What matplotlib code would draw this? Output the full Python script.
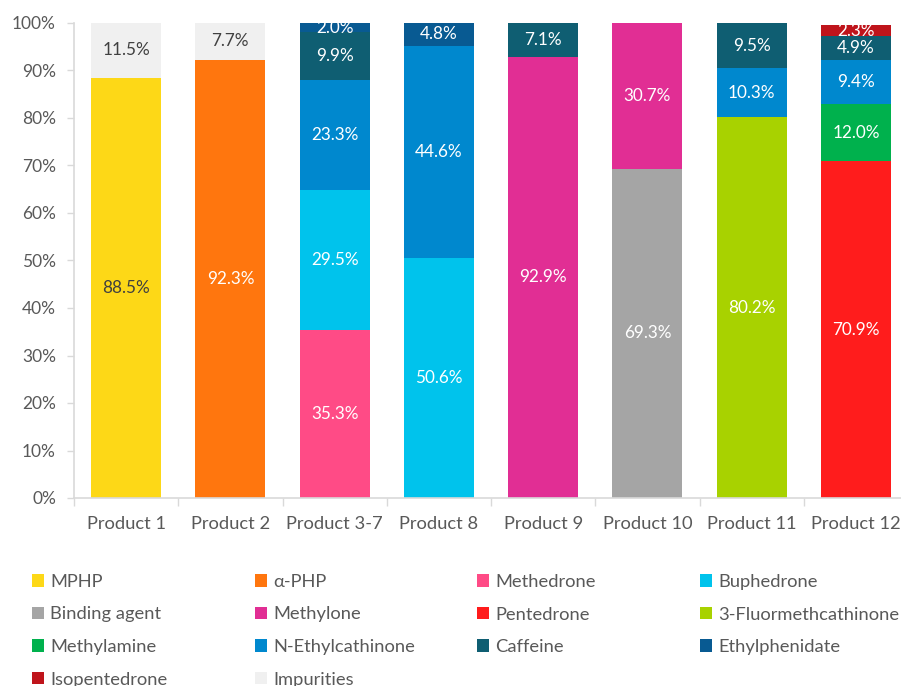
import matplotlib
matplotlib.use("Agg")
import matplotlib.pyplot as plt
from matplotlib.patches import Patch
import numpy as np

plt.rcParams['font.family'] = ['Lato', 'DejaVu Sans']

products = ["Product 1", "Product 2", "Product 3-7", "Product 8", "Product 9",
            "Product 10", "Product 11", "Product 12"]

components = ["MPHP", "α-PHP", "Methedrone", "Buphedrone", "Binding agent", "Methylone",
              "Pentedrone", "3-Fluormethcathinone", "Methylamine", "N-Ethylcathinone",
              "Caffeine", "Ethylphenidate", "Isopentedrone", "Impurities"]

colors = ["#FDD817", "#FF760E", "#FF4B86", "#00C3EC", "#A5A5A5", "#E12E94",
          "#FF1C1C", "#A8D200", "#00B14D", "#0088CE", "#0F5E72", "#085A92",
          "#BF141B", "#F0F0F0"]

# values (%) per component, per product
MPHP          = [88.5, 0, 0, 0, 0, 0, 0, 0]
aPHP          = [0, 92.3, 0, 0, 0, 0, 0, 0]
Methedrone    = [0, 0, 35.3, 0, 0, 0, 0, 0]
Buphedrone    = [0, 0, 29.5, 50.6, 0, 0, 0, 0]
BindingAgent  = [0, 0, 0, 0, 0, 69.3, 0, 0]
Methylone     = [0, 0, 0, 0, 92.9, 30.7, 0, 0]
Pentedrone    = [0, 0, 0, 0, 0, 0, 0, 70.9]
FMC3          = [0, 0, 0, 0, 0, 0, 80.2, 0]
Methylamine   = [0, 0, 0, 0, 0, 0, 0, 12.0]
NEC           = [0, 0, 23.3, 44.6, 0, 0, 10.3, 9.4]
Caffeine      = [0, 0, 9.9, 0, 7.1, 0, 9.5, 4.9]
Ethylphenidate= [0, 0, 2.0, 4.8, 0, 0, 0, 0]
Isopentedrone = [0, 0, 0, 0, 0, 0, 0, 2.3]
Impurities    = [11.5, 7.7, 0, 0, 0, 0, 0, 0]

series = [MPHP, aPHP, Methedrone, Buphedrone, BindingAgent, Methylone, Pentedrone,
          FMC3, Methylamine, NEC, Caffeine, Ethylphenidate, Isopentedrone, Impurities]

dark_label = {"MPHP", "Impurities"}

fig = plt.figure(figsize=(9.01, 6.86), dpi=100)
ax = fig.add_axes([74/901, 1-498/686, 834/901, (498-23)/686])

x = np.arange(len(products))
bottom = np.zeros(len(products))
for name, vals, col in zip(components, series, colors):
    vals = np.array(vals, dtype=float)
    ax.bar(x, vals, 0.67, bottom=bottom, color=col, label=name, zorder=2)
    for i, v in enumerate(vals):
        if v > 0:
            ax.text(x[i], bottom[i] + v/2, f"{v:.1f}%", ha='center', va='center',
                    fontsize=12.3, color="#404040" if name in dark_label else "white",
                    zorder=3)
    bottom += vals

ax.set_xlim(-0.5, len(products) - 0.5)
ax.set_ylim(0, 100)
ax.set_yticks(np.arange(0, 101, 10))
ax.set_yticklabels([f"{t}%" for t in range(0, 101, 10)])
ax.set_xticks(x)
ax.set_xticklabels(products)
ax.set_xticks(np.arange(-0.5, len(products), 1), minor=True)
ax.tick_params(axis='x', which='major', length=0, pad=13, labelsize=13.2, labelcolor="#595959")
ax.tick_params(axis='x', which='minor', length=6, color="#D9D9D9", width=1)
ax.tick_params(axis='y', length=5, color="#D9D9D9", width=1, pad=8, labelsize=12.5, labelcolor="#595959")
for s in ['top', 'right']:
    ax.spines[s].set_visible(False)
for s in ['left', 'bottom']:
    ax.spines[s].set_color("#D9D9D9")
    ax.spines[s].set_linewidth(1.2)

# legend: 4 columns, row-major
col_x = [32/901, 255/901, 477/901, 700/901]
ncol = 4
for c in range(ncol):
    idx = list(range(c, len(components), ncol))
    handles = [Patch(facecolor=colors[i], edgecolor='none', label=components[i]) for i in idx]
    fig.legend(handles=handles, loc='upper left', bbox_to_anchor=(col_x[c], 1-574/686),
               frameon=False, fontsize=13.2, handlelength=0.68, handleheight=0.68,
               handletextpad=0.3, labelspacing=0.9, labelcolor="#595959",
               borderaxespad=0, borderpad=0)

fig.savefig("out.png", dpi=100)
